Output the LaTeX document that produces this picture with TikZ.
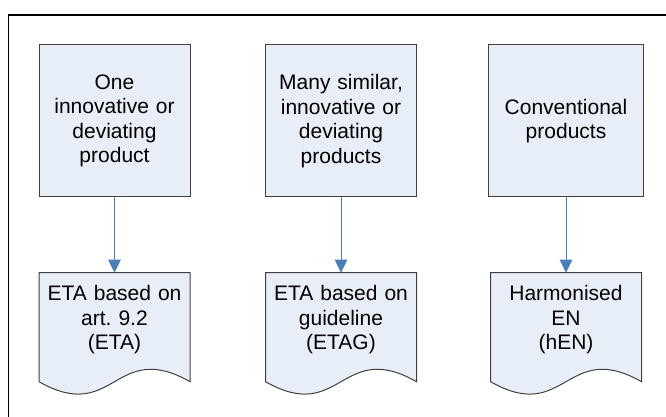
\documentclass[tikz,border=0pt]{standalone}
\usepackage{fontspec}
\setmainfont{Liberation Sans}
\frenchspacing
\usetikzlibrary{arrows.meta,positioning,calc,backgrounds}
\definecolor{boxfill}{HTML}{E8EEF7}
\definecolor{boxline}{HTML}{404040}
\definecolor{arrowblue}{HTML}{4A7EBB}

\begin{document}
\begin{tikzpicture}[x=1pt, y=1pt,
		node distance=75.7pt,
		P/.style = {rectangle, draw=boxline, fill=boxfill, line width=1pt,% product boxes
			minimum width=151pt, minimum height=152pt, text width=145pt,
			align=center, outer sep=0pt, inner sep=0pt,
			font=\fontsize{21}{24.5}\selectfont},
		D/.style = {rectangle, minimum width=151pt, minimum height=94.6pt,% document shapes, outline drawn below
			text width=145pt, align=center, outer sep=0pt, inner sep=0pt,
			font=\fontsize{21}{24.5}\selectfont},
		W/.style = {draw=boxline, fill=boxfill, line width=1pt},
		A/.style = {-{Triangle[width=12.5pt,length=13pt]}, draw=arrowblue, line width=1pt},
		]
		\useasboundingbox (0,0) rectangle (666,417);
		\draw[line width=1.4pt] (8.5,402) rectangle (672,-5);
		\foreach \i/\x/\w/\t/\b in {%
			1/114.5/151/{One\\innovative or\\deviating\\product}/{ETA based on\\art. 9.2\\(ETA)},
			2/341/151/{Many similar,\\innovative or\\deviating\\products}/{ETA based on\\guideline\\(ETAG)},
			3/566/155/{Conventional\\products}/{Harmonised\\EN\\(hEN)}}
		{
			\node[P, minimum width=\w pt] (P-\i) at (\x,296) {\t};
			\node[D, below=of P-\i] (D-\i) {\b};
			\draw[A] (P-\i) -- (D-\i);
		}
		\begin{scope}[on background layer]
			\foreach \i in {1,2,3}
			\draw[W] (D-\i.north west) -- (D-\i.north east) -- ($(D-\i.south east)+(0,-14.4)$)
			.. controls +(-75.5,43) and +(75.5,-43) .. ($(D-\i.south west)+(0,-14.4)$) -- cycle;
		\end{scope}
		%\node[above=2mm of P-2] {Products};
	\end{tikzpicture}
\end{document}
